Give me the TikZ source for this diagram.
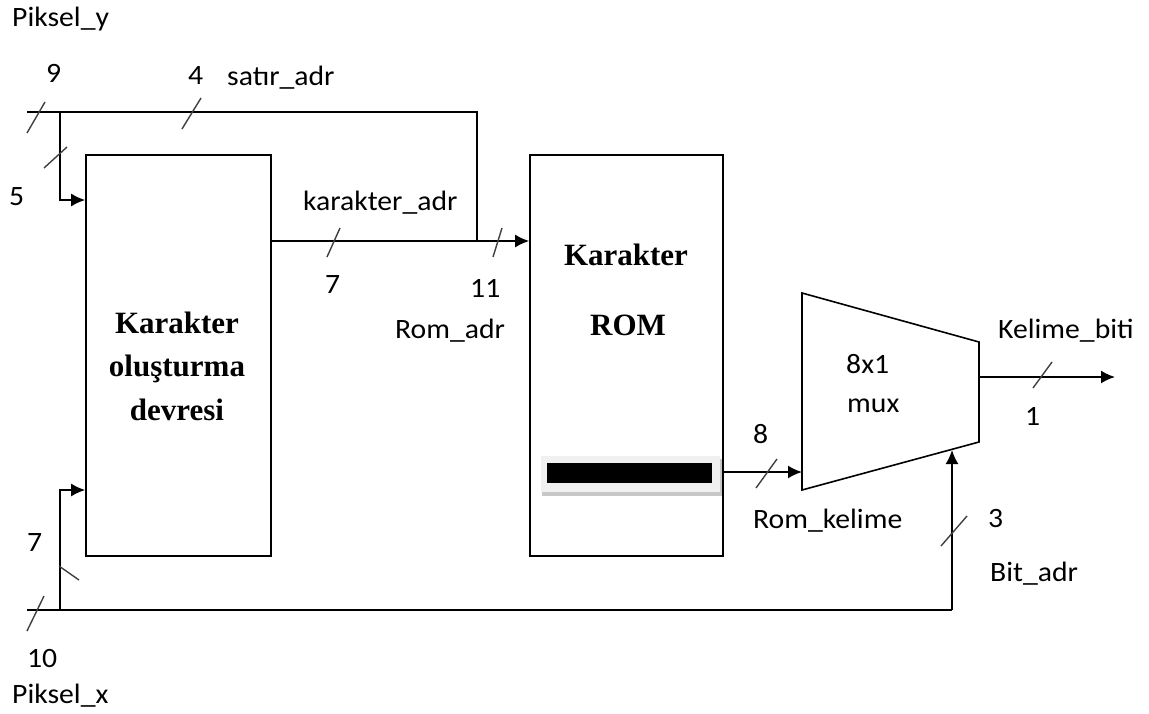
\documentclass[tikz,border=0pt]{standalone}
\usepackage{fontspec}
\usetikzlibrary{arrows.meta}
\newfontfamily\lblfont{Carlito}[FakeStretch=1.06]
\newfontfamily\serifbold{Liberation Serif}

\tikzset{
  lbl/.style={anchor=base west, inner sep=0pt, font=\lblfont\fontsize{28}{34}\selectfont},
  title/.style={anchor=base, inner sep=0pt, font=\serifbold\bfseries\fontsize{31}{43.5}\selectfont, align=center},
  block/.style={draw, line width=1.6pt, rectangle, inner sep=0pt},
  bus/.style={line width=1.8pt},
  arr/.style={-{Latex[length=14pt,width=13pt]}},
  slash/.style={line width=1.4pt, black!75}
}

\begin{document}
\begin{tikzpicture}[x=1pt, y=-1pt]
  \useasboundingbox (0,0) rectangle (1149,713);
  \fill[white] (0,0) rectangle (1149,713);

  % main blocks
  \node[block, minimum width=185pt, minimum height=401pt] (gen) at (178.5,355.5) {};
  \node[block, minimum width=193pt, minimum height=401pt] (rom) at (626.5,355.5) {};

  % 8x1 multiplexer outline
  \coordinate (mtl) at (802,293);
  \coordinate (mtr) at (979,342);
  \coordinate (mbr) at (979,442);
  \coordinate (mbl) at (802,490);
  \draw[line width=1.6pt] (mtl) -- (mtr) -- (mbr) -- (mbl) -- cycle;

  % ROM word register bar
  \fill[black!22] (542,459) rectangle (722,496);
  \fill[black!6] (541,456) rectangle (720,492);
  \fill[black] (547,463) rectangle (712,483);

  % bus reference points
  \coordinate (pyin) at (27,112);
  \coordinate (ytap) at (60,112);
  \coordinate (ycorner) at (477,112);
  \coordinate (adr) at (0,241);
  \coordinate (merge) at (477,241);
  \coordinate (gin1) at (0,200);
  \coordinate (gin2) at (0,490);
  \coordinate (pxin) at (27,610);
  \coordinate (xtap) at (60,610);
  \coordinate (bcorner) at (952,610);
  \coordinate (msel) at (952,450);
  \coordinate (word) at (0,472);
  \coordinate (mout) at (979,377);
  \coordinate (out) at (1115,377);

  % Piksel_y bus: row address to ROM, column part into generator
  \draw[bus] (pyin) -- (ycorner) -- (merge);
  \draw[bus,arr] (ytap) |- (gen.west |- gin1);

  % karakter_adr / Rom_adr
  \draw[bus,arr] (gen.east |- adr) -- (rom.west |- adr);

  % Piksel_x bus
  \draw[bus] (pxin) -- (bcorner);
  \draw[bus,arr] (bcorner) -- (msel);
  \draw[bus,arr] (xtap) |- (gen.west |- gin2);

  % ROM word to mux, mux output
  \draw[bus,arr] (rom.east |- word) -- (mbl |- word);
  \draw[bus,arr] (mout) -- (out);

  % bus width slashes
  \draw[slash] (27,133) -- (45,102);
  \draw[slash] (182,129) -- (201,98);
  \draw[slash] (44,168) -- (67,147);
  \draw[slash] (327,257) -- (340,228);
  \draw[slash] (493,257) -- (502,228);
  \draw[slash] (756,488) -- (777,459);
  \draw[slash] (1033,388) -- (1052,362);
  \draw[slash] (941,546) -- (967,516);
  \draw[slash] (59,566) -- (79,580);
  \draw[slash] (27,631) -- (44,596);

  % block titles (base anchor sits on the last line)
  \node[title] (gentitle) at (177,420) {Karakter\\oluşturma\\devresi};
  \node[title] (romt1) at (626,265) {Karakter};
  \node[title] (romt2) at (628,335) {ROM};

  % signal labels
  \node[lbl] (piksely) at (12,26) {Piksel\_y};
  \node[lbl] (n9) at (46,82) {9};
  \node[lbl] (n4) at (188,84) {4};
  \node[lbl] (satir) at (227,85) {satır\_adr};
  \node[lbl] (n5) at (9,205) {5};
  \node[lbl] (kadr) at (303,210) {karakter\_adr};
  \node[lbl] (n7a) at (325,293) {7};
  \node[lbl] (n11) at (470,297) {11};
  \node[lbl] (romadr) at (395,338) {Rom\_adr};
  \node[lbl] (n8) at (753,443) {8};
  \node[lbl] (romkel) at (753,528) {Rom\_kelime};
  \node[lbl] (m1) at (846,373) {8x1};
  \node[lbl] (m2) at (847,412) {mux};
  \node[lbl] (kelime) at (998,338) {Kelime\_biti};
  \node[lbl] (n1) at (1025,425) {1};
  \node[lbl] (n3) at (988,527) {3};
  \node[lbl] (bitadr) at (990,581) {Bit\_adr};
  \node[lbl] (n7b) at (27,551) {7};
  \node[lbl] (n10) at (27,667) {10};
  \node[lbl] (pikselx) at (12,703) {Piksel\_x};
\end{tikzpicture}
\end{document}
